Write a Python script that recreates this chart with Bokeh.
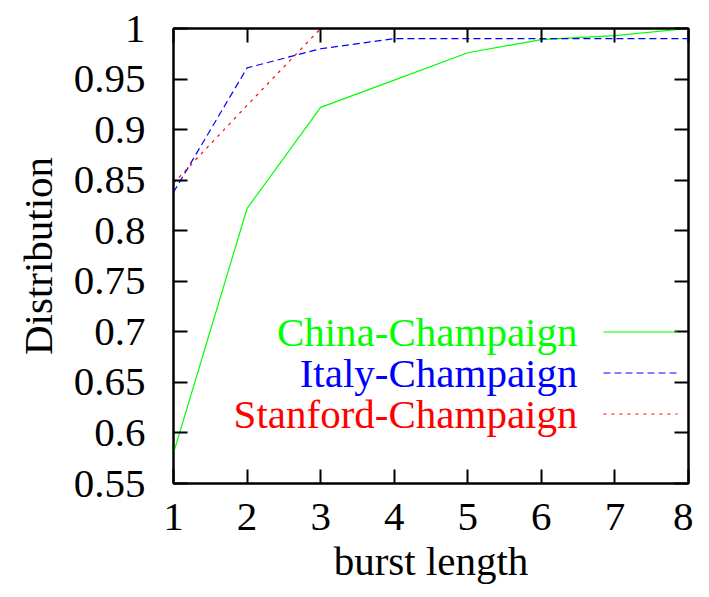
from bokeh.plotting import figure
from bokeh.embed import file_html
from bokeh.resources import INLINE
from bokeh.models import LinearAxis, FixedTicker, Label, Arrow, Range1d

# ---- data ----
burst_length = [1, 2, 3, 4, 5, 6, 7, 8]
china = [0.58, 0.822, 0.922, 0.949, 0.976, 0.989, 0.993, 1.0]
italy = [0.838, 0.961, 0.980, 0.990, 0.990, 0.990, 0.990, 0.990]
stanford = [0.847, 0.924, 1.0, 1.0, 1.0, 1.0, 1.0, 1.0]
series_names = ["China-Champaign", "Italy-Champaign", "Stanford-Champaign"]
x_ticks = [1, 2, 3, 4, 5, 6, 7, 8]
y_ticks = [0.55, 0.6, 0.65, 0.7, 0.75, 0.8, 0.85, 0.9, 0.95, 1.0]
y_tick_labels = ["0.55", "0.6", "0.65", "0.7", "0.75", "0.8", "0.85", "0.9", "0.95", "1"]
x_title = "burst length"
y_title = "Distribution"

FONT = "Liberation Serif"
FS = "41px"

p = figure(width=693, height=589, output_backend="svg", toolbar_location=None,
           x_range=Range1d(1, 8), y_range=Range1d(0.55, 1.0),
           min_border_left=173, min_border_right=5, min_border_top=28, min_border_bottom=106,
           x_axis_label=x_title, y_axis_label=y_title)
p.grid.visible = False
p.outline_line_color = "black"
p.outline_line_width = 2
p.background_fill_color = "white"
p.border_fill_color = "white"

for ax in (p.xaxis[0], p.yaxis[0]):
    ax.major_label_text_font = FONT
    ax.major_label_text_font_size = FS
    ax.major_label_text_color = "black"
    ax.axis_label_text_font = FONT
    ax.axis_label_text_font_size = FS
    ax.axis_label_text_font_style = "normal"
    ax.axis_label_text_color = "black"
    ax.axis_line_width = 2
    ax.major_tick_line_width = 2
    ax.major_tick_in = 14
    ax.major_tick_out = 0
    ax.minor_tick_line_color = None

p.xaxis[0].ticker = FixedTicker(ticks=x_ticks)
p.yaxis[0].ticker = FixedTicker(ticks=y_ticks)
p.yaxis[0].major_label_overrides = {t: s for t, s in zip(y_ticks, y_tick_labels)}
p.xaxis[0].major_label_standoff = 20
p.yaxis[0].major_label_standoff = 28
p.xaxis[0].axis_label_standoff = 5
p.yaxis[0].axis_label_standoff = 10

# mirrored axes (ticks only, no labels)
top = LinearAxis(ticker=FixedTicker(ticks=x_ticks),
                 major_label_overrides={t: "" for t in x_ticks},
                 major_tick_in=14, major_tick_out=0, major_tick_line_width=2,
                 axis_line_width=2, minor_tick_line_color=None, major_label_standoff=0)
right = LinearAxis(ticker=FixedTicker(ticks=y_ticks),
                   major_label_overrides={t: "" for t in y_ticks},
                   major_tick_in=14, major_tick_out=0, major_tick_line_width=2,
                   axis_line_width=2, minor_tick_line_color=None, major_label_standoff=0)
p.add_layout(top, "above")
p.add_layout(right, "right")

colors = ["#00ff00", "#0000ff", "#ff0000"]
dashes = ["solid", "7 4", "3 5"]
for ys, c, d in zip([china, italy, stanford], colors, dashes):
    p.line(burst_length, ys, line_color=c, line_width=1.2, line_dash=d)

# gnuplot-style key: text right-aligned, then line sample
key_rows = [151.5, 110.5, 69.5]
for name, c, d, ry in zip(series_names, colors, dashes, key_rows):
    p.add_layout(Label(x=404, y=ry, x_units="screen", y_units="screen", text=name,
                       text_font=FONT, text_font_size=FS, text_color=c,
                       text_align="right", text_baseline="middle"))
    p.add_layout(Arrow(x_start=430, y_start=ry, x_end=504, y_end=ry,
                       start_units="screen", end_units="screen", end=None, start=None,
                       line_color=c, line_width=1.2, line_dash=d))

open("out.html", "w").write(file_html(p, INLINE))
